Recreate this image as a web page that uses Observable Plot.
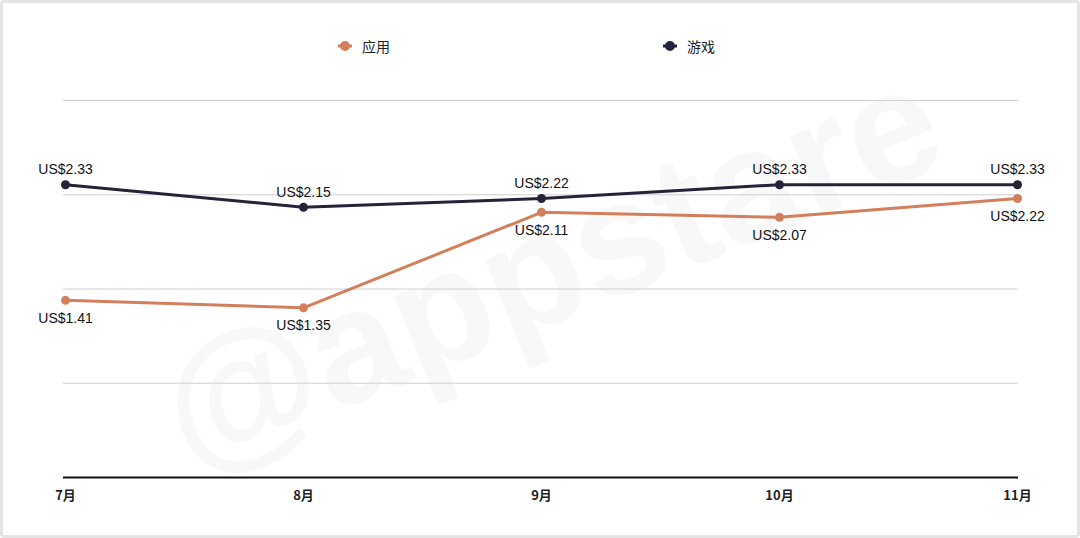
<!DOCTYPE html>
<html>
<head>
<meta charset="utf-8">
<script src="https://cdn.jsdelivr.net/npm/d3@7"></script>
<script src="https://cdn.jsdelivr.net/npm/@observablehq/plot@0.6"></script>
<style>
  html, body { margin: 0; padding: 0; background: #fff; }
  #wrap { position: relative; width: 1080px; height: 538px; overflow: hidden; background: #fff;
          font-family: "Liberation Sans", Arial, "Noto Sans CJK SC", sans-serif; }
  #frame { position: absolute; left: 0; top: 0; width: 1080px; height: 538px; box-sizing: border-box;
           border: 3px solid #e4e4e4; border-radius: 4px; pointer-events: none; }
  #legend { position: absolute; top: 0; left: 0; width: 1080px; height: 92px; }
  .item { position: absolute; top: 36px; display: flex; align-items: center; font-size: 14px; color: #222;
          font-family: "Noto Sans CJK SC", sans-serif; }
  .item svg { margin-right: 9px; }
  #chart { position: absolute; top: 92px; left: 0; }
</style>
</head>
<body>
<div id="wrap">
  <div id="chart"></div>
  <div id="legend"></div>
  <div id="frame"></div>
</div>
<script>
const months = ["7月", "8月", "9月", "10月", "11月"];
const seriesNames = ["应用", "游戏"];
const appValues = [1.41, 1.35, 2.11, 2.07, 2.22];
const gameValues = [2.33, 2.15, 2.22, 2.33, 2.33];
const yTicks = [0.75, 1.5, 2.25, 3];
const colors = ["#d47f5b", "#23233a"];

const data = [];
months.forEach((m, i) => {
  data.push({month: m, series: seriesNames[0], value: appValues[i]});
  data.push({month: m, series: seriesNames[1], value: gameValues[i]});
});
const fmt = v => "US$" + v.toFixed(2);

// legend
const legend = document.getElementById("legend");
const legendX = [337, 662];
seriesNames.forEach((s, i) => {
  const d = document.createElement("div");
  d.className = "item";
  d.style.left = legendX[i] + "px";
  d.innerHTML = `<svg width="16" height="12"><line x1="1" x2="15" y1="6" y2="6" stroke="${colors[i]}" stroke-width="3"/><circle cx="8" cy="6" r="5" fill="${colors[i]}"/></svg><span>${s}</span>`;
  legend.appendChild(d);
});

const chart = Plot.plot({
  width: 1080,
  height: 446,
  marginTop: 8,
  marginBottom: 61,
  marginLeft: 63,
  marginRight: 62,
  style: {fontFamily: "'Liberation Sans', Arial, sans-serif", background: "transparent", overflow: "visible"},
  x: {type: "point", domain: months, padding: 0, label: null},
  y: {domain: [0, 3], axis: null},
  color: {domain: seriesNames, range: colors},
  marks: [
    Plot.text(["@appstare"], {frameAnchor: "middle", dx: 10, dy: -20, rotate: -22, fontSize: 160, fontWeight: "bold", fill: "#f8f8f8"}),
    Plot.gridY(yTicks, {stroke: "#cfcfcf", strokeOpacity: 1, strokeWidth: 1}),
    Plot.ruleY([0], {stroke: "#111", strokeWidth: 2}),
    Plot.line(data, {x: "month", y: "value", stroke: "series", strokeWidth: 3}),
    Plot.dot(data, {x: "month", y: "value", fill: "series", r: 4.5}),
    Plot.text(data.filter(d => d.series === seriesNames[1]), {x: "month", y: "value", text: d => fmt(d.value), dy: -15, fontSize: 14, fill: "#111"}),
    Plot.text(data.filter(d => d.series === seriesNames[0]), {x: "month", y: "value", text: d => fmt(d.value), dy: 18, fontSize: 14, fill: "#111"}),
    Plot.axisX({tickSize: 0, tickPadding: 13, fontSize: 13, fontWeight: "bold", fill: "#222", fontFamily: "'Noto Sans CJK SC', sans-serif", label: null})
  ]
});
document.getElementById("chart").appendChild(chart);
</script>
</body>
</html>
